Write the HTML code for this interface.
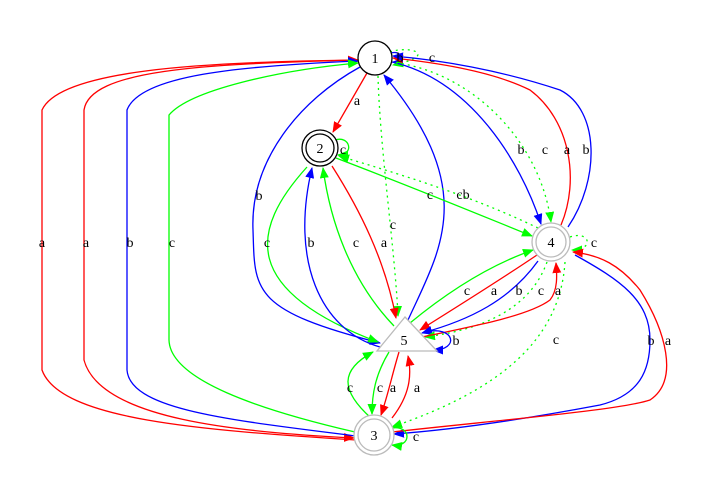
<!DOCTYPE html>
<html><head><meta charset="utf-8"><style>
html,body{margin:0;padding:0;background:#fff;}
svg{display:block;}
text{font-family:"Liberation Serif",serif;font-size:14px;}
</style></head><body>
<svg width="712" height="498" viewBox="0 0 712 498" xmlns="http://www.w3.org/2000/svg">
<defs>
<marker id="r" markerWidth="11" markerHeight="9" refX="10" refY="4.5" orient="auto" markerUnits="userSpaceOnUse"><path d="M0,0 L11,4.5 L0,9 z" fill="#f00"/></marker>
<marker id="b" markerWidth="11" markerHeight="9" refX="10" refY="4.5" orient="auto" markerUnits="userSpaceOnUse"><path d="M0,0 L11,4.5 L0,9 z" fill="#00f"/></marker>
<marker id="g" markerWidth="11" markerHeight="9" refX="10" refY="4.5" orient="auto" markerUnits="userSpaceOnUse"><path d="M0,0 L11,4.5 L0,9 z" fill="#0f0"/></marker>
</defs>
<g fill="none" stroke-width="1.3">
<path d="M356,440 C200,430 60,420 42,370 L42,110 C60,70 200,62 358,60" stroke="#f00" marker-end="url(#r)"/>
<path d="M358,60 C200,64 90,70 84,110 L84,360 C100,420 240,432 354,438" stroke="#f00" marker-end="url(#r)"/>
<path d="M356,436 C230,420 130,410 127,370 L127,110 C140,75 240,66 358,61" stroke="#00f" marker-end="url(#b)"/>
<path d="M355,432 C260,410 170,380 169,340 L169,115 C190,90 280,70 358,63" stroke="#0f0" marker-end="url(#g)"/>
<path d="M367,73 L333,132" stroke="#f00" marker-end="url(#r)"/>
<path d="M391,53 C402,50 405,62 393,62" stroke="#00f" marker-end="url(#b)"/>
<path d="M390,52 C410,45 440,55 393,65" stroke="#0f0" stroke-dasharray="2,4" marker-end="url(#g)"/>
<path d="M360,67 C300,100 250,160 253,230 C255,290 250,310 380,343" stroke="#00f" marker-end="url(#b)"/>
<path d="M392,62 C470,80 520,160 541,224" stroke="#00f" marker-end="url(#b)"/>
<path d="M561,225 C580,180 570,120 530,90 C490,70 430,62 393,58" stroke="#f00" marker-end="url(#r)"/>
<path d="M568,227 C600,180 600,110 560,90 C500,70 440,60 393,56" stroke="#00f" marker-end="url(#b)"/>
<path d="M390,62 C470,70 540,140 551,222" stroke="#0f0" stroke-dasharray="2,4" marker-end="url(#g)"/>
<path d="M378,76 C380,150 395,250 398,316" stroke="#0f0" stroke-dasharray="2,4" marker-end="url(#g)"/>
<path d="M408,320 C440,250 480,190 384,75" stroke="#00f" marker-end="url(#b)"/>
<path d="M335,140 C350,135 355,155 338,155" stroke="#0f0" marker-end="url(#g)"/>
<path d="M336,158 C420,190 480,215 532,236" stroke="#0f0" marker-end="url(#g)"/>
<path d="M538,228 C480,200 420,180 339,156" stroke="#0f0" stroke-dasharray="2,4" marker-end="url(#g)"/>
<path d="M332,166 C360,210 385,260 396,318" stroke="#f00" marker-end="url(#r)"/>
<path d="M307,167 C250,230 240,290 378,342" stroke="#0f0" marker-end="url(#g)"/>
<path d="M380,347 C320,330 290,260 312,168" stroke="#00f" marker-end="url(#b)"/>
<path d="M394,326 C350,280 330,220 323,168" stroke="#0f0" marker-end="url(#g)"/>
<path d="M410,323 C450,290 490,265 533,250" stroke="#0f0" marker-end="url(#g)"/>
<path d="M537,255 C500,280 460,305 420,330" stroke="#f00" marker-end="url(#r)"/>
<path d="M538,261 C510,300 470,320 422,333" stroke="#00f" marker-end="url(#b)"/>
<path d="M547,262 C530,310 480,330 425,337" stroke="#0f0" stroke-dasharray="2,4" marker-end="url(#g)"/>
<path d="M422,337 C480,325 530,315 550,300 C558,290 557,275 556,263" stroke="#f00" marker-end="url(#r)"/>
<path d="M425,332 C455,325 460,350 433,350" stroke="#00f" marker-end="url(#b)"/>
<path d="M570,237 C590,230 595,250 572,250" stroke="#0f0" stroke-dasharray="2,4" marker-end="url(#g)"/>
<path d="M565,262 C560,340 500,390 392,427" stroke="#0f0" stroke-dasharray="2,4" marker-end="url(#g)"/>
<path d="M575,255 C620,280 650,300 650,340 C650,370 640,395 600,405 C520,420 450,430 394,434" stroke="#00f" marker-end="url(#b)"/>
<path d="M392,432 C500,420 620,410 650,400 C680,380 665,330 640,290 C620,265 600,255 573,252" stroke="#f00" marker-end="url(#r)"/>
<path d="M371,418 C340,390 340,370 373,352" stroke="#0f0" marker-end="url(#g)"/>
<path d="M389,352 C375,375 372,395 372,414" stroke="#0f0" marker-end="url(#g)"/>
<path d="M399,352 C392,375 388,395 381,415" stroke="#f00" marker-end="url(#r)"/>
<path d="M392,418 C410,395 412,375 408,356" stroke="#f00" marker-end="url(#r)"/>
<path d="M392,428 C412,425 412,448 392,445" stroke="#0f0" marker-end="url(#g)"/>
</g>
<g stroke-width="1.3">
<circle cx="375" cy="58" r="17" fill="#fff" stroke="#000"/>
<circle cx="320" cy="148" r="18" fill="#fff" stroke="#000"/>
<circle cx="320" cy="148" r="14" fill="none" stroke="#000"/>
<circle cx="551" cy="242" r="19" fill="#fff" stroke="#bbb"/>
<circle cx="551" cy="242" r="15" fill="none" stroke="#bbb"/>
<circle cx="374" cy="435" r="20" fill="#fff" stroke="#bbb"/>
<circle cx="374" cy="435" r="16" fill="none" stroke="#bbb"/>
<path d="M405,317 L437,351 L377,351 Z" fill="#fff" stroke="#bbb"/>
</g>
<g text-anchor="middle">
<text x="375" y="63">1</text>
<text x="320" y="153">2</text>
<text x="551" y="247">4</text>
<text x="374" y="440">3</text>
<text x="404" y="345">5</text>
</g>
<g text-anchor="middle">
<text x="357" y="105">a</text>
<text x="400" y="62">b</text>
<text x="432" y="62">c</text>
<text x="343" y="154">c</text>
<text x="521" y="154">b</text>
<text x="545" y="154">c</text>
<text x="567" y="154">a</text>
<text x="586" y="154">b</text>
<text x="259" y="200">b</text>
<text x="393" y="229">c</text>
<text x="430" y="199">c</text>
<text x="463" y="199">cb</text>
<text x="42" y="247">a</text>
<text x="86" y="247">a</text>
<text x="130" y="247">b</text>
<text x="172" y="247">c</text>
<text x="267" y="247">c</text>
<text x="311" y="247">b</text>
<text x="356" y="247">c</text>
<text x="384" y="247">a</text>
<text x="594" y="247">c</text>
<text x="467" y="295">c</text>
<text x="494" y="295">a</text>
<text x="519" y="295">b</text>
<text x="541" y="295">c</text>
<text x="558" y="295">a</text>
<text x="456" y="345">b</text>
<text x="556" y="344">c</text>
<text x="651" y="345">b</text>
<text x="668" y="345">a</text>
<text x="350" y="392">c</text>
<text x="380" y="392">c</text>
<text x="393" y="392">a</text>
<text x="417" y="392">a</text>
<text x="416" y="441">c</text>
</g>
</svg>
</body></html>
